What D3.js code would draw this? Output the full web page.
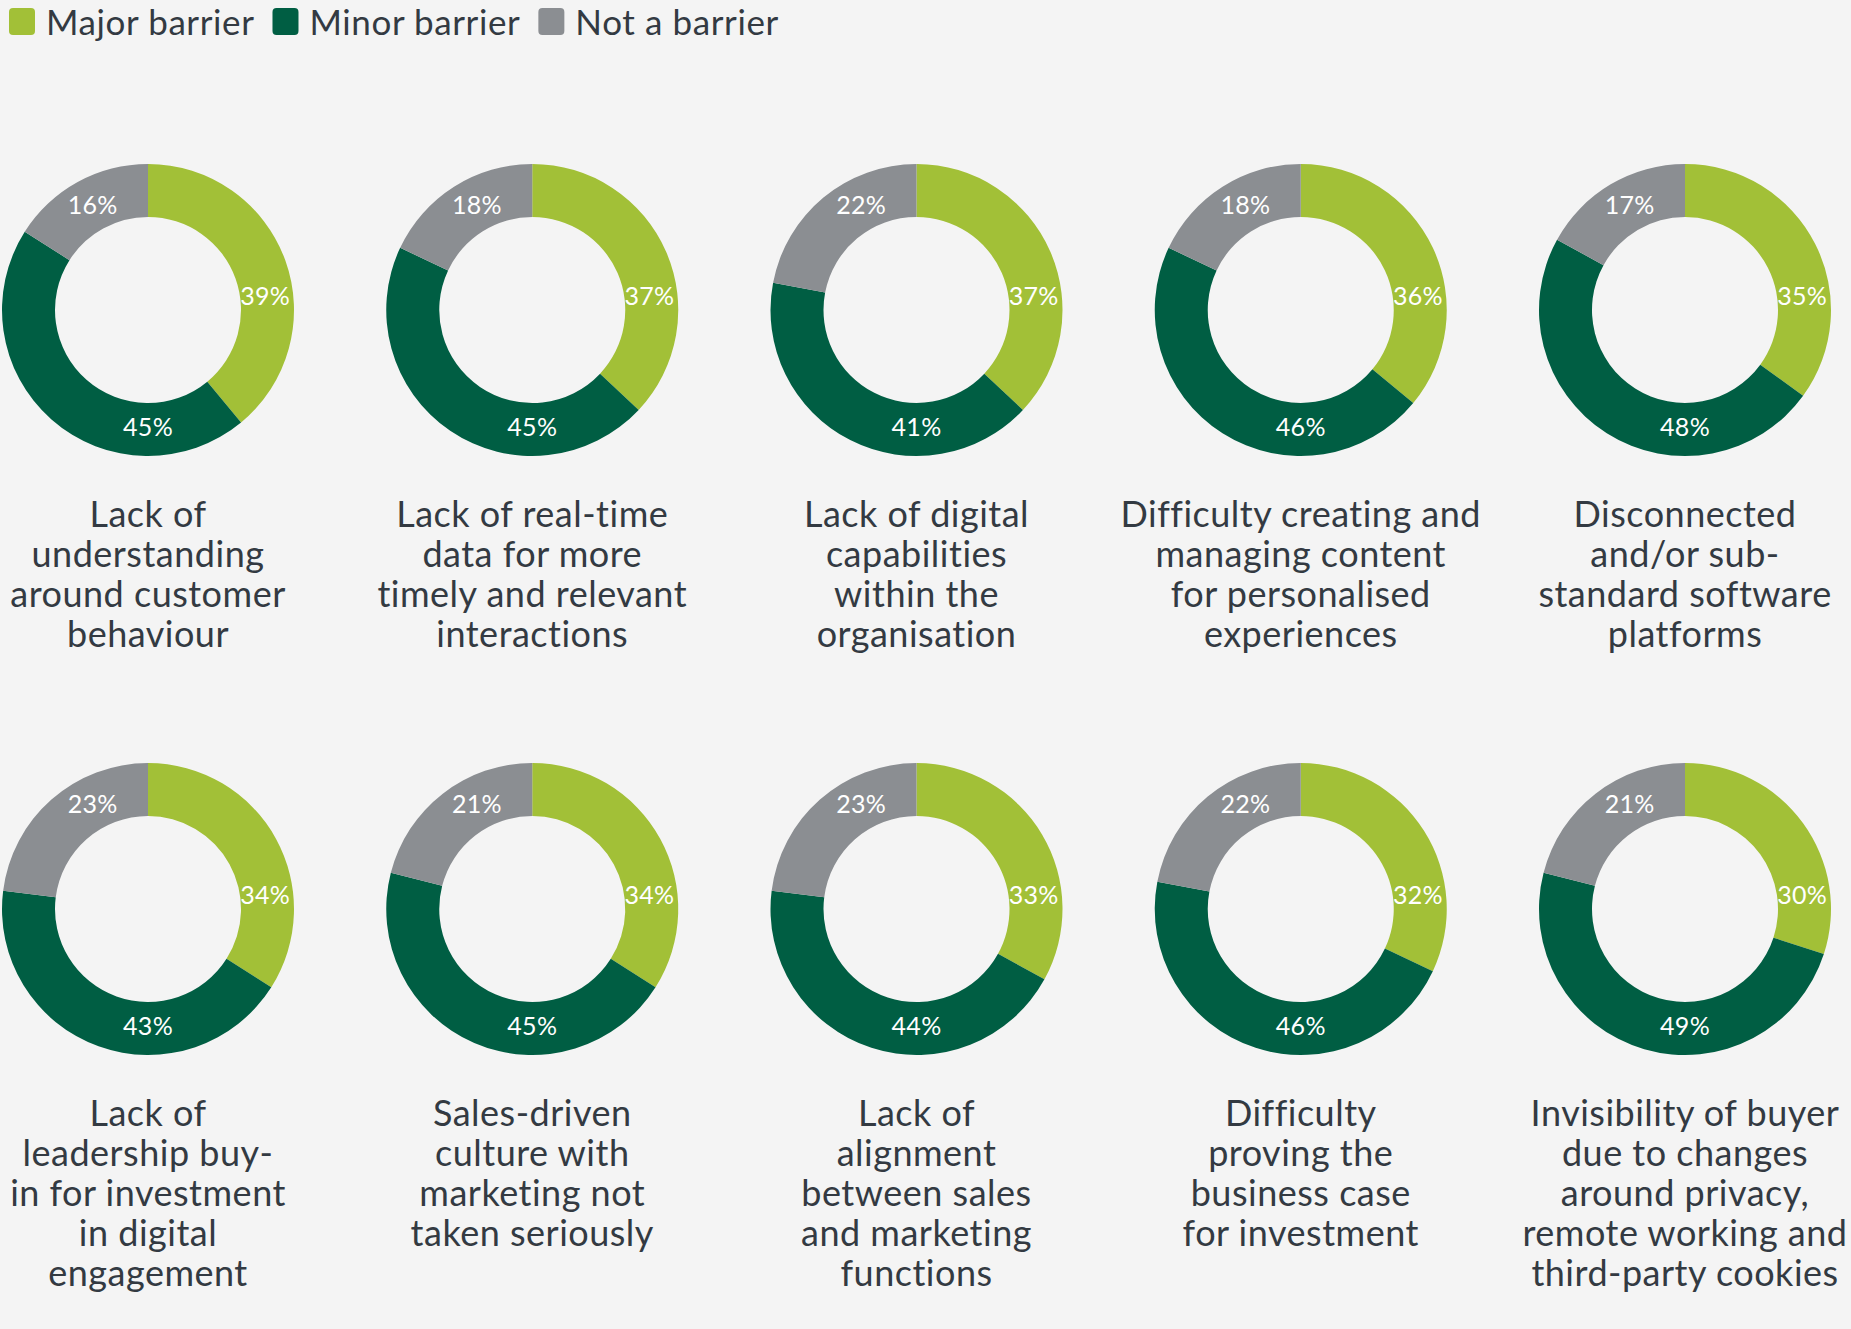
<!DOCTYPE html>
<html lang="en">
<head>
    <meta charset="UTF-8">
    <title>Barriers to digital engagement</title>
    <style>
        html, body { margin: 0; padding: 0; background: #f4f4f4; }
        svg text { font-family: Lato, "Open Sans", sans-serif; }
        .cat-label { fill: #333a42; font-size: 36px; letter-spacing: 0.5px; text-anchor: middle; }
        .pct { fill: #ffffff; font-size: 25px; letter-spacing: 0.3px; text-anchor: middle; }
        .legend text { fill: #333a42; font-size: 35px; letter-spacing: 0.6px; }
    </style>
</head>
<body>
    <div id="chart"></div>

    <script src="https://d3js.org/d3.v7.min.js"></script>
    <script>
        // Datos
        const seriesNames = ["Major barrier", "Minor barrier", "Not a barrier"];
        const major = [39, 37, 37, 36, 35, 34, 34, 33, 32, 30];
        const minor = [45, 45, 41, 46, 48, 43, 45, 44, 46, 49];
        const notBarrier = [16, 18, 22, 18, 17, 23, 21, 23, 22, 21];
        const categories = [
            ["Lack of", "understanding", "around customer", "behaviour"],
            ["Lack of real-time", "data for more", "timely and relevant", "interactions"],
            ["Lack of digital", "capabilities", "within the", "organisation"],
            ["Difficulty creating and", "managing content", "for personalised", "experiences"],
            ["Disconnected", "and/or sub-", "standard software", "platforms"],
            ["Lack of", "leadership buy-", "in for investment", "in digital", "engagement"],
            ["Sales-driven", "culture with", "marketing not", "taken seriously"],
            ["Lack of", "alignment", "between sales", "and marketing", "functions"],
            ["Difficulty", "proving the", "business case", "for investment"],
            ["Invisibility of buyer", "due to changes", "around privacy,", "remote working and", "third-party cookies"]
        ];

        const width = 1851, height = 1329;
        const colors = ["#a2c037", "#005e43", "#8b8e92"];
        const outerR = 146, innerR = 93;
        const labelR = 118;
        // ángulos fijos de las etiquetas (grados, desde arriba en sentido horario)
        const labelAngles = [83.5, 180, 332];

        const svg = d3.select("#chart").append("svg")
            .attr("width", width)
            .attr("height", height);

        // Leyenda
        const legend = svg.append("g").attr("class", "legend");
        let lx = 9;
        seriesNames.forEach((name, i) => {
            const g = legend.append("g").attr("transform", `translate(${lx},0)`);
            g.append("rect")
                .attr("y", 8)
                .attr("width", 26).attr("height", 27)
                .attr("rx", 4)
                .attr("fill", colors[i]);
            const t = g.append("text")
                .attr("x", 37).attr("y", 35)
                .text(name);
            lx += 37 + t.node().getComputedTextLength() + 18;
        });

        // Escalas
        const cols = d3.range(5);
        const x = d3.scalePoint().domain(cols).range([148, 1685]);
        const y = d3.scalePoint().domain([0, 1]).range([310, 909]);

        const pie = d3.pie().sort(null).value(d => d.value);
        const arc = d3.arc().innerRadius(innerR).outerRadius(outerR);

        categories.forEach((lines, i) => {
            const data = [
                { key: 0, value: major[i] },
                { key: 1, value: minor[i] },
                { key: 2, value: notBarrier[i] }
            ];
            const cx = x(i % 5), cy = y(Math.floor(i / 5));
            const g = svg.append("g").attr("transform", `translate(${cx},${cy})`);

            g.selectAll("path")
                .data(pie(data))
                .join("path")
                .attr("d", arc)
                .attr("fill", d => colors[d.data.key]);

            g.selectAll("text.pct")
                .data(data)
                .join("text")
                .attr("class", "pct")
                .attr("x", d => labelR * Math.sin(labelAngles[d.key] * Math.PI / 180))
                .attr("y", d => -labelR * Math.cos(labelAngles[d.key] * Math.PI / 180))
                .attr("dy", "0.32em")
                .text(d => d.value + "%");

            const label = g.append("text")
                .attr("class", "cat-label")
                .attr("y", 217);
            lines.forEach((line, j) => {
                label.append("tspan")
                    .attr("x", 0)
                    .attr("dy", j === 0 ? 0 : 40)
                    .text(line);
            });
        });
    </script>
</body>
</html>
